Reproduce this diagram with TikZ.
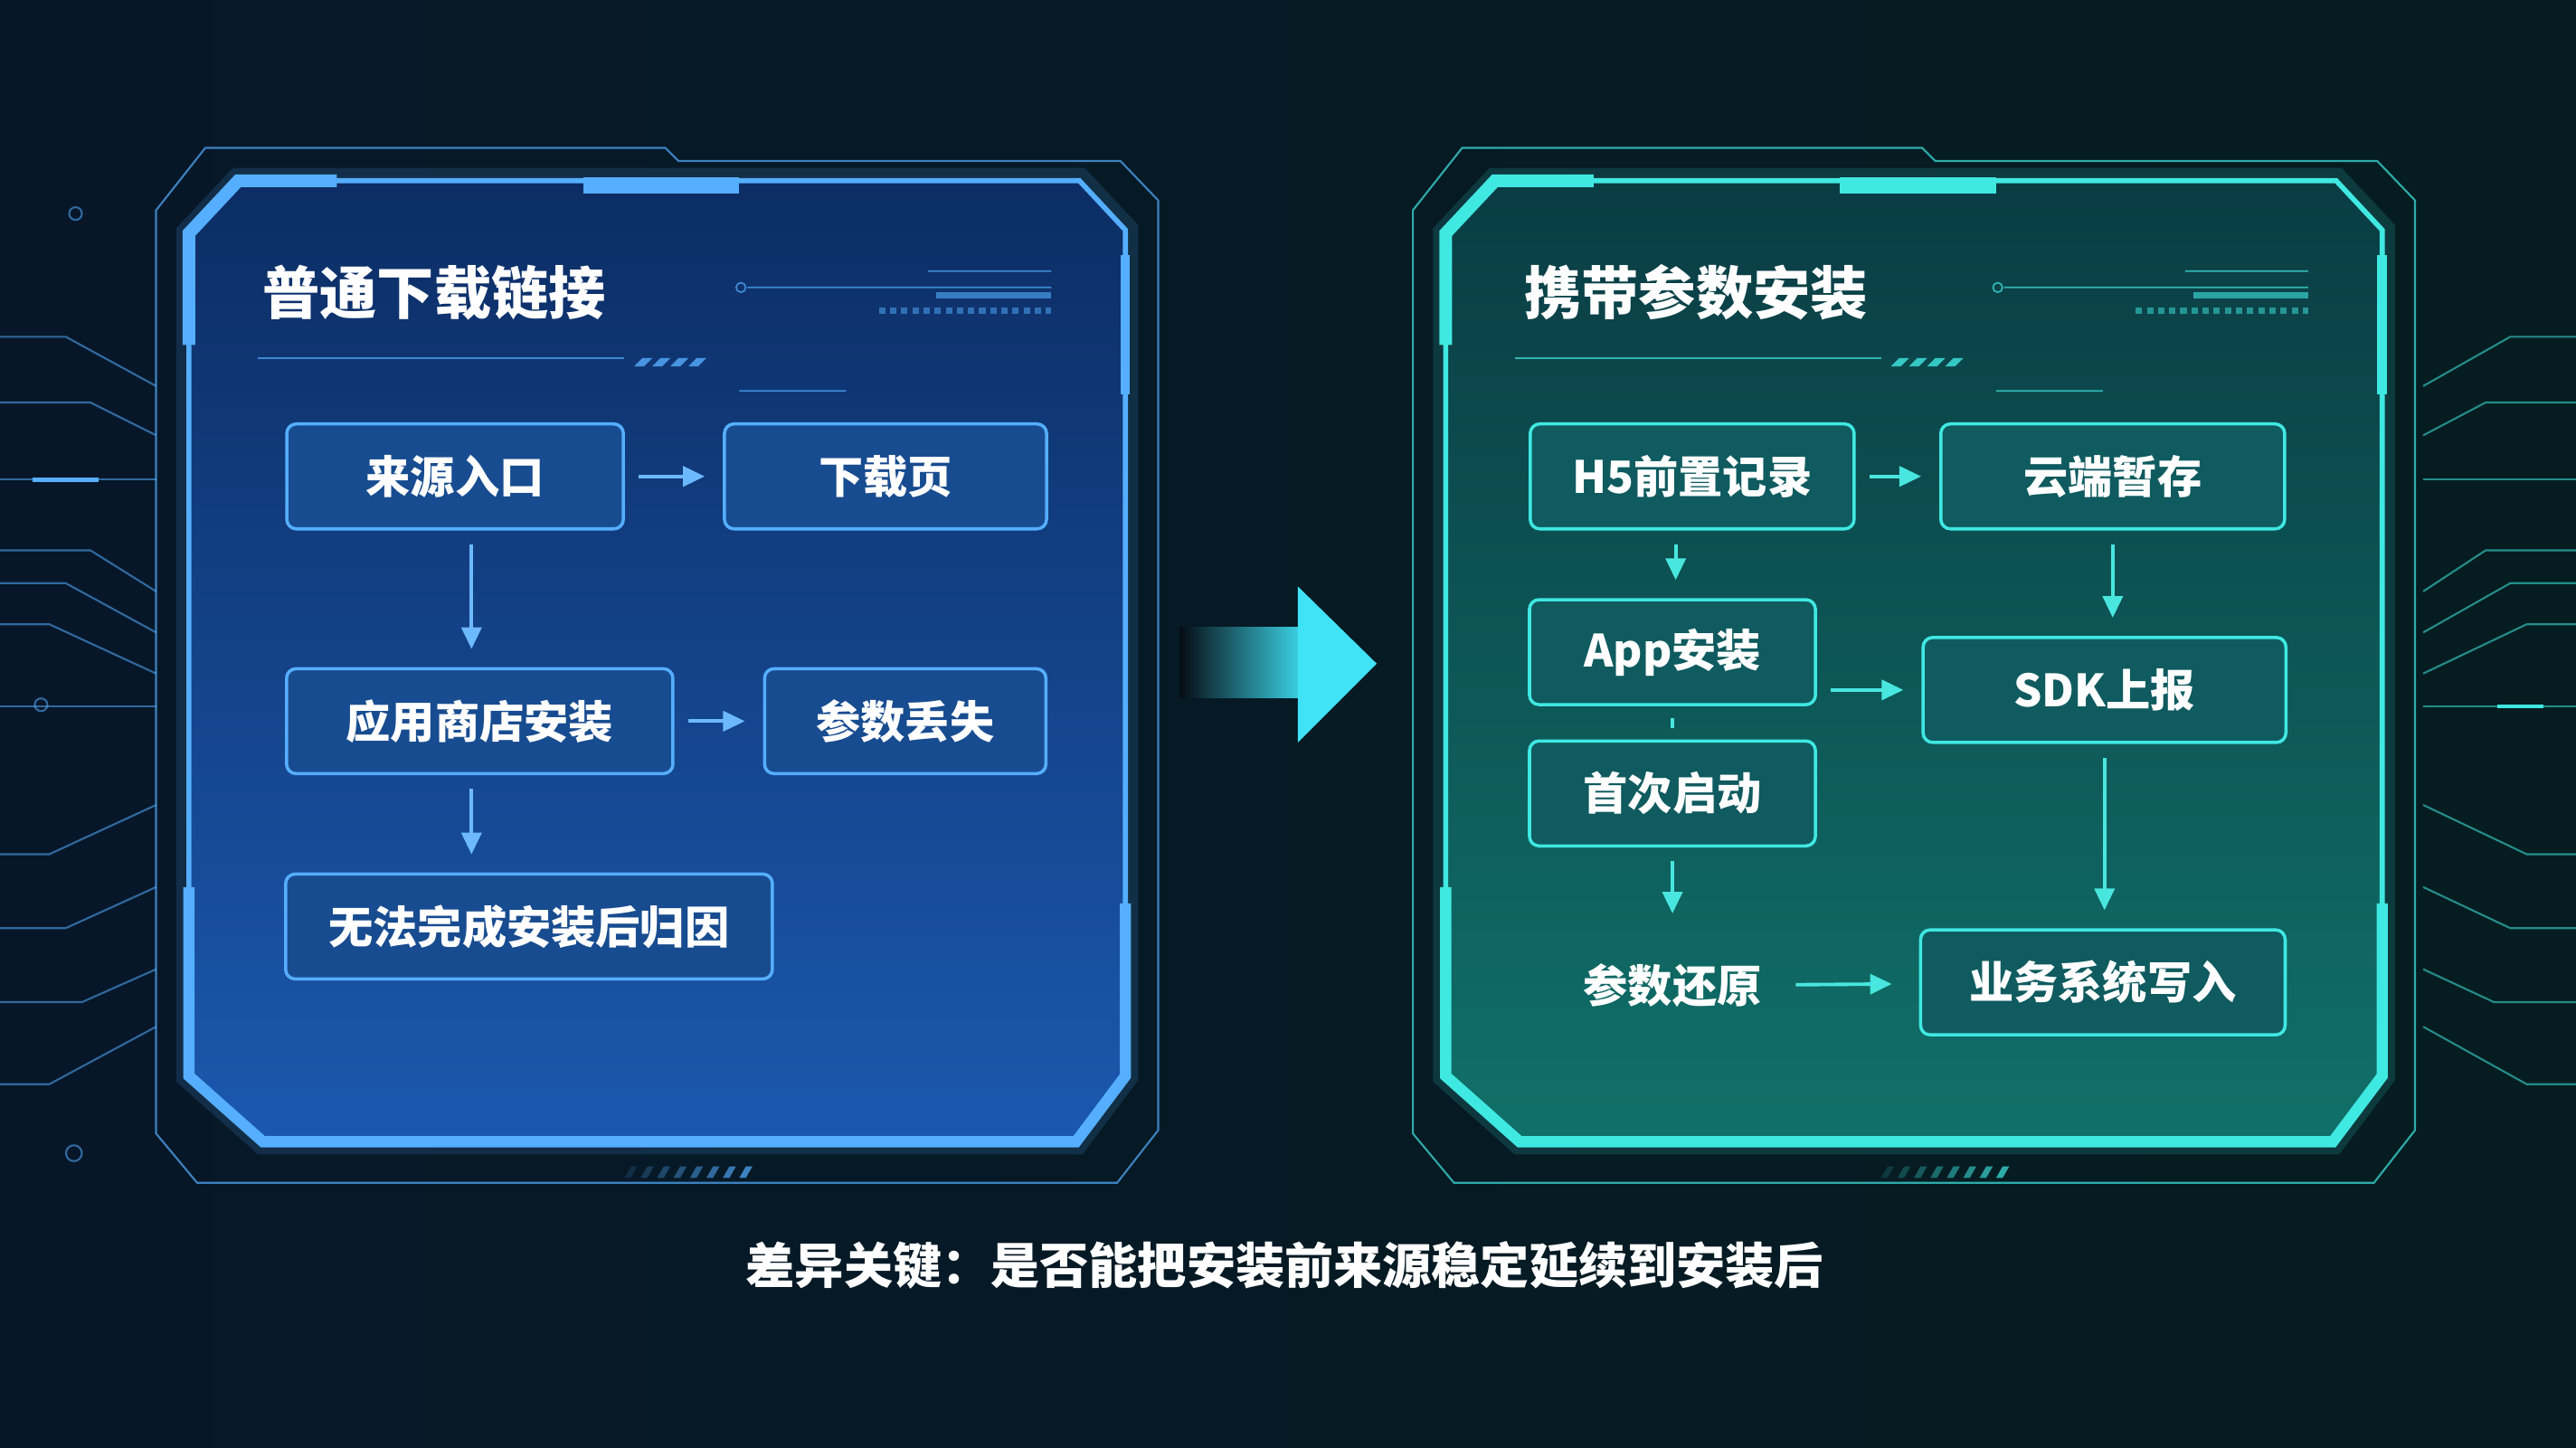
\documentclass[tikz,border=0pt]{standalone}
\usepackage{fontspec}
\setmainfont{Noto Sans CJK SC}
\usetikzlibrary{arrows.meta,positioning,calc}
\definecolor{bgdark}{HTML}{050C14}
\definecolor{bgleft}{HTML}{071729}
\definecolor{bgright}{HTML}{051D20}
\definecolor{blueline}{HTML}{55AEFF}
\definecolor{cyanline}{HTML}{40E8E2}
\definecolor{lpantop}{HTML}{0C2D64}
\definecolor{lpanbot}{HTML}{1B58AE}
\definecolor{rpantop}{HTML}{0A3C44}
\definecolor{rpanbot}{HTML}{107069}
\definecolor{boxblue}{HTML}{184C90}
\definecolor{boxteal}{HTML}{0F5B5F}
\definecolor{arrblue}{HTML}{6DB9FF}
\definecolor{arrcyan}{HTML}{48E6DE}
\definecolor{bigarr}{HTML}{40E2F6}
\tikzset{
  diagarr/.style={-{Triangle[length=2.4mm,width=2.2mm]}, line width=1.1pt, shorten <=0.15cm, shorten >=0.2cm},
  diagnode/.style={draw, rounded corners=3pt, align=center, inner sep=4pt, line width=1pt, text=white,
    minimum height=1.16cm, font=\bfseries\fontsize{14}{16}\selectfont},
  circuit/.style={line width=.6pt, opacity=.55},
}
\begin{document}
\begin{tikzpicture}[x=0.018163cm, y=-0.018163cm,
  bx/.style={diagnode, draw=blueline, fill=boxblue},
  cx/.style={diagnode, draw=cyanline, fill=boxteal},
  ttl/.style={anchor=west, text=white, font=\bfseries\fontsize{18}{20}\selectfont},
]
  \useasboundingbox (0,0) rectangle (1568,881);
  \shade[left color=bgleft, middle color=bgdark, right color=bgright] (0,0) rectangle (1568,881);
  \foreach \ya/\yb/\xb in {205/235/40, 245/265/55, 335/360/55, 355/385/40, 380/410/30, 520/490/30, 565/540/40, 610/590/50, 660/625/30}
    \draw[circuit, blueline] (0,\ya) -- (\xb,\ya) -- (95,\yb);
  \draw[blueline, line width=1.4pt] (20,292) -- (60,292);
  \draw[circuit, blueline] (0,292) -- (95,292) (0,430) -- (95,430);
  \draw[circuit, blueline] (46,130) circle[radius=2pt] (25,429) circle[radius=2pt] (45,702) circle[radius=2.5pt];
  \foreach \ya/\yb/\xb in {205/235/40, 245/265/55, 335/360/55, 355/385/40, 380/410/30, 520/490/30, 565/540/40, 610/590/50, 660/625/30}
    \draw[circuit, cyanline] (1568,\ya) -- (1568-\xb,\ya) -- (1475,\yb);
  \draw[cyanline, line width=1.4pt] (1520,430) -- (1548,430);
  \draw[circuit, cyanline] (1475,430) -- (1568,430) (1475,292) -- (1568,292);
  \foreach \px/\lc/\tc/\bc in {115/blueline/lpantop/lpanbot, 880/cyanline/rpantop/rpanbot} {
    \begin{scope}[shift={(\px,110)}]
      \draw[\lc, line width=.6pt, opacity=.7] (-20,18) -- (10,-20) -- (290,-20) -- (298,-12) -- (567,-12) -- (590,12)
        -- (590,578) -- (565,610) -- (5,610) -- (-20,580) -- cycle;
      \draw[\lc, line width=8pt, opacity=.15] (30,0) -- (542,0) -- (570,30) -- (570,545) -- (540,585) -- (45,585) -- (0,545) -- (0,32) -- cycle;
      \shade[top color=\tc, bottom color=\bc] (30,0) -- (542,0) -- (570,30) -- (570,545) -- (540,585) -- (45,585) -- (0,545) -- (0,32) -- cycle;
      \draw[\lc, line width=1.6pt] (30,0) -- (542,0) -- (570,30) -- (570,545) -- (540,585) -- (45,585) -- (0,545) -- (0,32) -- cycle;
      \draw[\lc, line width=4pt] (0,100) -- (0,32) -- (30,0) -- (90,0);
      \draw[\lc, line width=5pt] (240,3) -- (335,3);
      \draw[\lc, line width=3.5pt] (0,430) -- (0,545) -- (45,585) -- (540,585) -- (570,545) -- (570,440);
      \draw[\lc, line width=3pt] (570,45) -- (570,130);
      \draw[\lc, line width=.5pt, opacity=.7] (42,108) -- (265,108);
      \foreach \i in {0,...,3}
        \fill[\lc, opacity=.8] (271+11*\i,113) -- (276+11*\i,108) -- (282+11*\i,108) -- (277+11*\i,113) -- cycle;
      \draw[\lc, line width=.5pt, opacity=.7] (336,65) circle[radius=1.5pt] (340,65) -- (525,65)
        (450,55) -- (525,55) (335,128) -- (400,128);
      \draw[\lc, line width=2pt, opacity=.6] (455,70) -- (525,70);
      \draw[\lc, line width=2pt, dash pattern=on 2pt off 1.5pt, opacity=.5] (420,79) -- (525,79);
      \foreach \i in {0,...,7}
        \fill[\lc, opacity=.15+.08*\i] (265+10*\i,607) -- (269+10*\i,600) -- (273+10*\i,600) -- (269+10*\i,607) -- cycle;
    \end{scope}
  }
  \shade[left color=bgdark, right color=bigarr!92!black] (718,382) rectangle (791,425);
  \fill[bigarr] (790,357) -- (838,404) -- (790,452) -- cycle;
  \node[ttl] (lt) at (153,178) {普通下载链接};
  \node[ttl] (rt) at (921,178) {携带参数安装};
  \node[bx, minimum width=3.72cm] (src) at (277,290) {来源入口};
  \node[bx, minimum width=3.56cm] (dl) at (539,290) {下载页};
  \node[bx, minimum width=4.27cm] (store) at (292,439) {应用商店安装};
  \node[bx, minimum width=3.11cm] (lost) at (551,439) {参数丢失};
  \node[bx, minimum width=5.38cm] (fail) at (322,564) {无法完成安装后归因};
  \coordinate (s1) at ($(src.south)+(10,0)$);
  \coordinate (s2) at ($(store.south)+(-5,0)$);
  \foreach \a/\b in {src/dl, store/lost, s1/s1 |- store.north, s2/s2 |- fail.north}
    \draw[diagarr, arrblue] (\a) -- (\b);
  \node[cx, minimum width=3.58cm] (h5) at (1030,290) {H5前置记录};
  \node[cx, minimum width=3.80cm] (cloud) at (1286,290) {云端暂存};
  \node[cx, minimum width=3.16cm] (app) at (1018,397) {App安装};
  \node[cx, minimum width=4.01cm] (sdk) at (1281,420) {SDK上报};
  \node[cx, minimum width=3.16cm] (boot) at (1018,483) {首次启动};
  \node[diagnode, draw=none] (rest) at (1018,600) {参数还原};
  \node[cx, minimum width=4.03cm] (biz) at (1280,598) {业务系统写入};
  \coordinate (h1) at ($(h5.south)+(-10,0)$);
  \foreach \a/\b in {h5/cloud, h1/h1 |- app.north, app.east |- sdk.west/sdk.west, cloud.south/cloud.south |- sdk.north,
    sdk.south/sdk.south |- biz.north, boot/rest}
    \draw[diagarr, arrcyan] (\a) -- (\b);
  \draw[arrcyan, line width=1.1pt, shorten <=0.13cm, shorten >=0.13cm] (app) -- (boot);
  \draw[diagarr, arrcyan, shorten <=0.22cm, shorten >=0.3cm] (rest) -- (biz);
  \node[text=white, font=\bfseries\fontsize{15.4}{18}\selectfont] (key) at (782,770) {差异关键：是否能把安装前来源稳定延续到安装后};
\end{tikzpicture}
\end{document}
